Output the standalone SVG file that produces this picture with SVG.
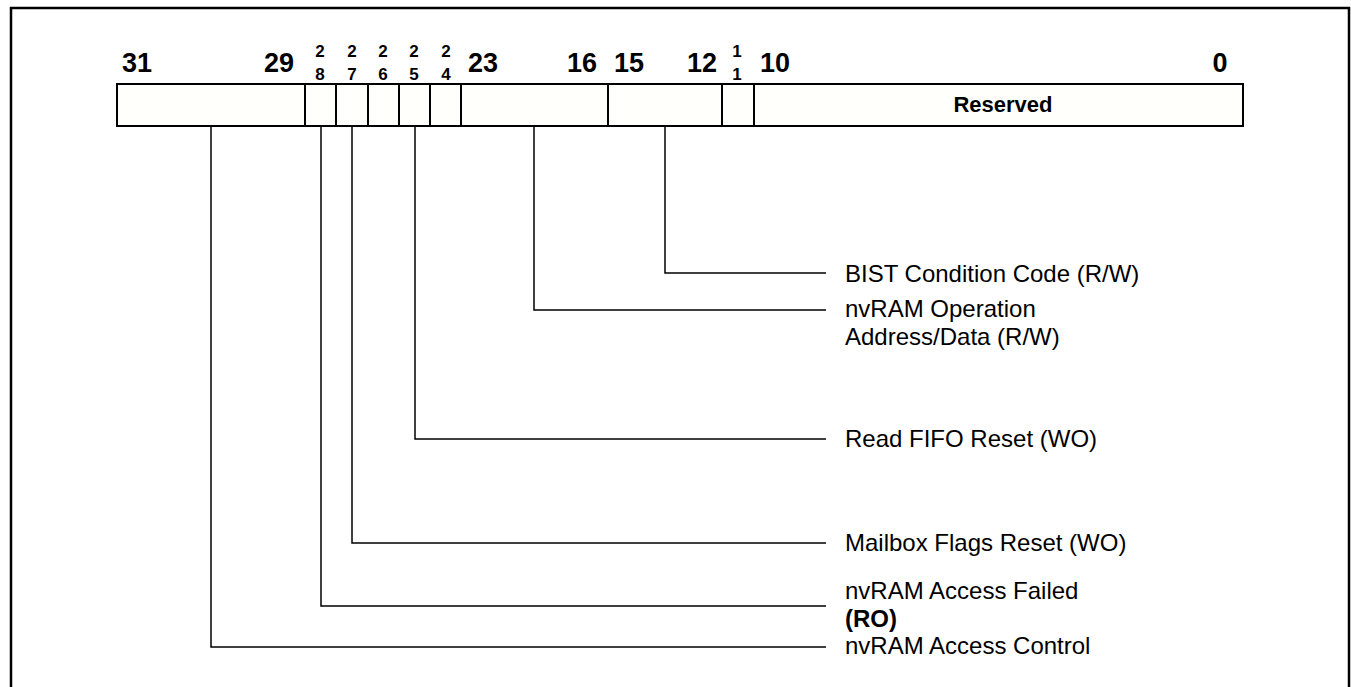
<svg xmlns="http://www.w3.org/2000/svg" width="1351" height="687" viewBox="0 0 1351 687">
<style>
.frame{fill:none;stroke:#000;stroke-width:2.5}
.cell{fill:#fffffc;stroke:#000;stroke-width:2}
.conn{fill:none;stroke:#000;stroke-width:1.5}
.big{font-family:"Liberation Sans",Arial,sans-serif;font-weight:bold;font-size:27px;fill:#000;text-anchor:middle}
.small{font-family:"Liberation Sans",Arial,sans-serif;font-weight:bold;font-size:17px;fill:#000;text-anchor:middle}
.lbl{font-family:"Liberation Sans",Arial,sans-serif;font-size:24px;fill:#000}
.lblb{font-family:"Liberation Sans",Arial,sans-serif;font-size:24px;font-weight:bold;fill:#000}
.res{font-family:"Liberation Sans",Arial,sans-serif;font-weight:bold;font-size:22px;fill:#000;text-anchor:middle}
</style>
<rect class="frame" x="11" y="8" width="1338" height="700"/>
<g id="bitnumbers">
<text class="big" x="137" y="72">31</text>
<text class="big" x="279" y="72">29</text>
<text class="small" x="320" y="57">2</text><text class="small" x="320" y="80">8</text>
<text class="small" x="352" y="57">2</text><text class="small" x="352" y="80">7</text>
<text class="small" x="383" y="57">2</text><text class="small" x="383" y="80">6</text>
<text class="small" x="414" y="57">2</text><text class="small" x="414" y="80">5</text>
<text class="small" x="446" y="57">2</text><text class="small" x="446" y="80">4</text>
<text class="big" x="483" y="72">23</text>
<text class="big" x="582" y="72">16</text>
<text class="big" x="629" y="72">15</text>
<text class="big" x="702" y="72">12</text>
<text class="small" x="737" y="57">1</text><text class="small" x="737" y="80">1</text>
<text class="big" x="775" y="72">10</text>
<text class="big" x="1220" y="72">0</text>
</g>
<g id="register">
<rect class="cell" x="117" y="84" width="188" height="42"/>
<rect class="cell" x="305" y="84" width="31" height="42"/>
<rect class="cell" x="336" y="84" width="32" height="42"/>
<rect class="cell" x="368" y="84" width="31" height="42"/>
<rect class="cell" x="399" y="84" width="31" height="42"/>
<rect class="cell" x="430" y="84" width="31" height="42"/>
<rect class="cell" x="461" y="84" width="147" height="42"/>
<rect class="cell" x="608" y="84" width="114" height="42"/>
<rect class="cell" x="722" y="84" width="32" height="42"/>
<rect class="cell" x="754" y="84" width="489" height="42"/>
<text class="res" x="1003" y="112">Reserved</text>
</g>
<g id="connectors">
<polyline class="conn" points="665,126 665,273 826,273"/>
<polyline class="conn" points="534,126 534,310 826,310"/>
<polyline class="conn" points="415,126 415,439 826,439"/>
<polyline class="conn" points="352,126 352,543 826,543"/>
<polyline class="conn" points="321,126 321,606 826,606"/>
<polyline class="conn" points="211,126 211,647 826,647"/>
</g>
<g id="label-bist"><text class="lbl" x="845" y="282">BIST Condition Code (R/W)</text></g>
<g id="label-nvop"><text class="lbl" x="845" y="317">nvRAM Operation</text><text class="lbl" x="845" y="345">Address/Data (R/W)</text></g>
<g id="label-fifo"><text class="lbl" x="845" y="447">Read FIFO Reset (WO)</text></g>
<g id="label-mailbox"><text class="lbl" x="845" y="551">Mailbox Flags Reset (WO)</text></g>
<g id="label-failed"><text class="lbl" x="845" y="599">nvRAM Access Failed</text><text class="lblb" x="845" y="627">(RO)</text></g>
<g id="label-control"><text class="lbl" x="845" y="654">nvRAM Access Control</text></g>
</svg>
